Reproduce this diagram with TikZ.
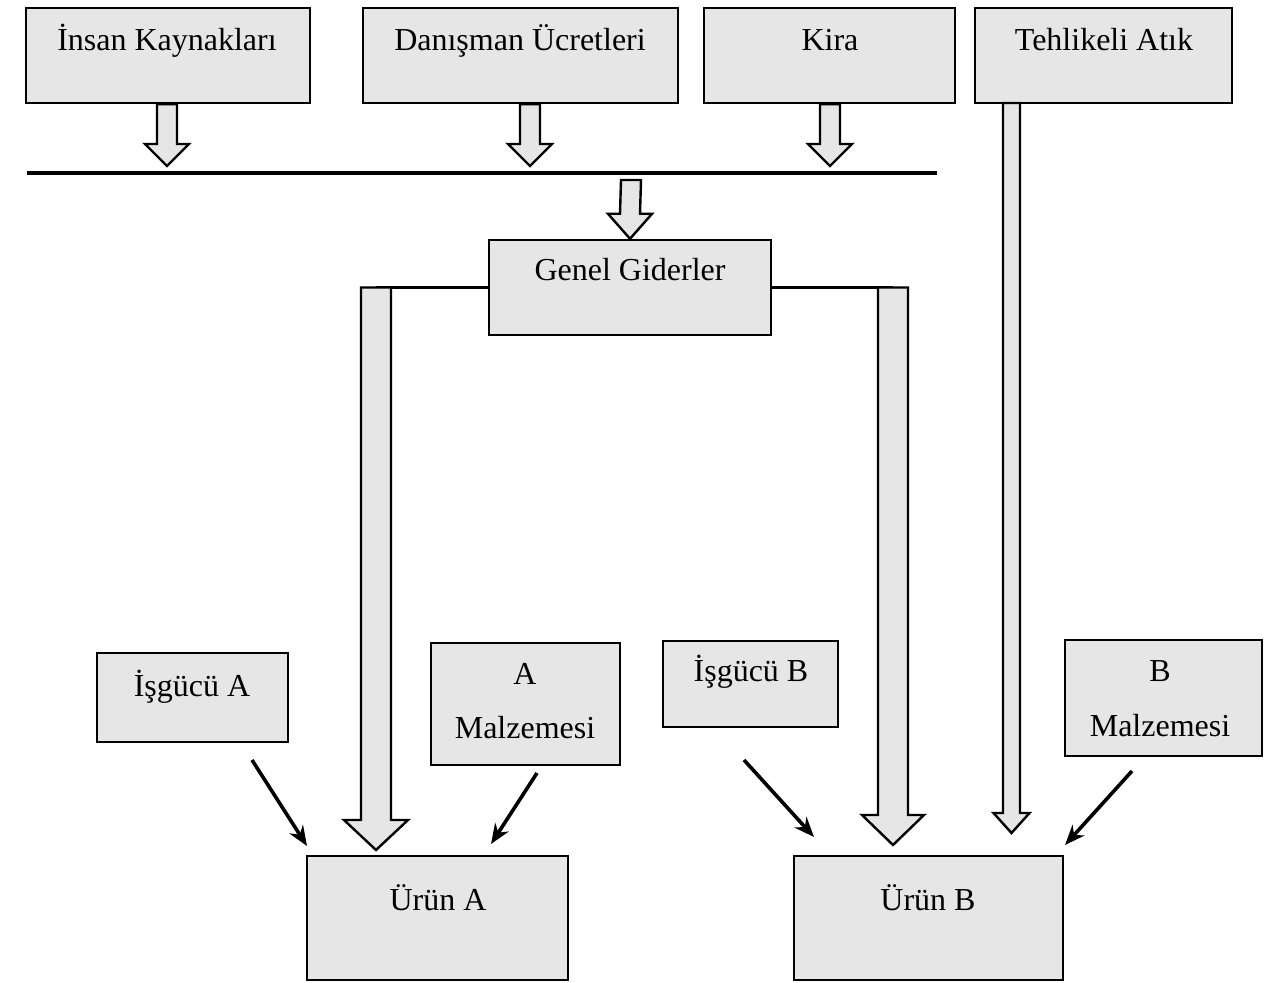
\documentclass[tikz,border=0pt]{standalone}
\usepackage{fontspec}
\setmainfont{Liberation Serif}
\usetikzlibrary{fit,calc,arrows.meta}
\definecolor{boxgray}{RGB}{230,230,230}
\newcommand{\fatarrow}[5]{%
  \draw[hollow] ($#1+(-#3,0)$) -- ($#2+(-#3,-#5)$) -- ($#2+(-#4,-#5)$) -- #2 -- ($#2+(#4,-#5)$) -- ($#2+(#3,-#5)$) -- ($#1+(#3,0)$) -- cycle;}

\begin{document}
\begin{tikzpicture}[x=0.5pt,y=0.5pt,yscale=-1,
    box/.style={draw=black, line width=1.2pt, fill=boxgray, inner sep=0pt},
    lbl/.style={font=\fontsize{16}{19}\selectfont, inner sep=0.75pt, anchor=base},
    hollow/.style={draw=black, line width=1.2pt, fill=boxgray, line join=miter},
    inflow/.style={-{Stealth[length=10pt,width=8pt]}, line width=1.8pt}]
                            \useasboundingbox (0,0) rectangle (1267,983);
                            \node[box, fit={(26,8) (310,103)}] (insan) {};
                            \node[box, fit={(363,8) (678,103)}] (danis) {};
                            \node[box, fit={(704,8) (955,103)}] (kira) {};
                            \node[box, fit={(975,8) (1232,103)}] (atik) {};
                            \node[box, fit={(489,240) (771,335)}] (genel) {};
                            \node[box, fit={(97,653) (288,742)}] (isgA) {};
                            \node[box, fit={(431,643) (620,765)}] (malA) {};
                            \node[box, fit={(663,641) (838,727)}] (isgB) {};
                            \node[box, fit={(1065,640) (1262,756)}] (malB) {};
                            \node[box, fit={(307,856) (568,980)}] (urunA) {};
                            \node[box, fit={(794,856) (1063,980)}] (urunB) {};
                            \node[lbl] (insanT) at (167,51) {İnsan Kaynakları};
                            \node[lbl] (danisT) at (520,51) {Danışman Ücretleri};
                            \node[lbl] (kiraT) at (830,51) {Kira};
                            \node[lbl] (atikT) at (1104,51) {Tehlikeli Atık};
                            \node[lbl] (genelT) at (630,281) {Genel Giderler};
                            \node[lbl] (isgAT) at (192,696) {İşgücü A};
                            \node[lbl] (malAT) at (525,684) {A};
                            \node[lbl] (malAT2) at (525,738) {Malzemesi};
                            \node[lbl] (isgBT) at (751,681) {İşgücü B};
                            \node[lbl] (malBT) at (1160,681) {B};
                            \node[lbl] (malBT2) at (1160,736) {Malzemesi};
                            \node[lbl] (urunAT) at (438,910) {Ürün A};
                            \node[lbl] (urunBT) at (928,910) {Ürün B};
                            \coordinate (barL) at (27,173);
                            \coordinate (barR) at (937,173);
                            \coordinate (insanTip) at (167,166);
                            \coordinate (danisTip) at (530,166);
                            \coordinate (kiraTip) at (830,166);
                            \coordinate (barOut) at (631,180);
                            \coordinate (ggL) at (376,287.5);
                            \coordinate (ggR) at (893,287.5);
                            \coordinate (ggLTip) at (376,850);
                            \coordinate (ggRTip) at (893,845);
                            \coordinate (atikTop) at (1011.5,103);
                            \coordinate (atikTip) at (1011.5,833);
                            \draw [line width=1.8pt] (barL) -- (barR);
                            \draw [line width=1.5pt] (genel.west) -- (ggL);
                            \draw [line width=1.5pt] (genel.east) -- (ggR);
                            \fatarrow{(insan.south -| insanTip)}{(insanTip)}{10}{22}{22}
                            \fatarrow{(danis.south -| danisTip)}{(danisTip)}{10}{22}{22}
                            \fatarrow{(kira.south -| kiraTip)}{(kiraTip)}{10}{22}{22}
                            \fatarrow{(barOut)}{(genel.north)}{10}{22}{25}
                            \fatarrow{(ggL)}{(ggLTip)}{15}{32}{30}
                            \fatarrow{(ggR)}{(ggRTip)}{15}{31}{30}
                            \fatarrow{(atikTop)}{(atikTip)}{8.5}{18}{20}
                            \coordinate (isgAOut) at (252,760);
                            \coordinate (malAOut) at (537,773);
                            \coordinate (isgBOut) at (744,760);
                            \coordinate (malBOut) at (1132,771);
                            \draw [inflow] (isgAOut) -- (307,846);
                            \draw [inflow] (malAOut) -- (491,844);
                            \draw [inflow] (isgBOut) -- (814,837);
                            \draw [inflow] (malBOut) -- (1065,845);
                        \end{tikzpicture}
\end{document}
